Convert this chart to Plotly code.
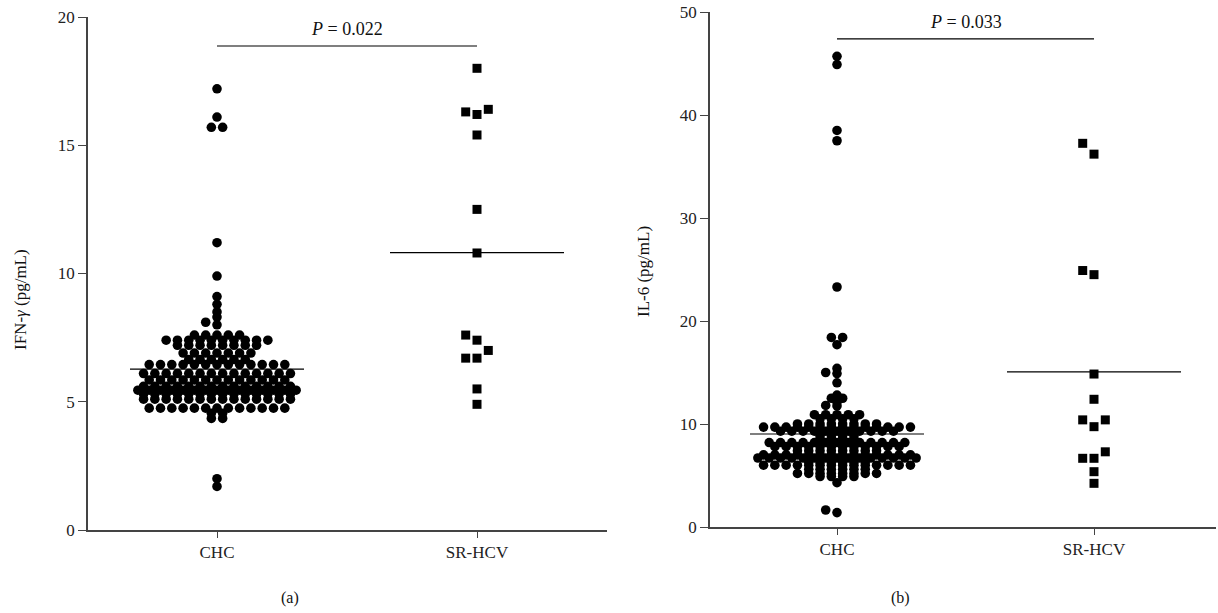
import plotly.graph_objects as go

# ---------------- data ----------------
categories = ["CHC", "SR-HCV"]

# Panel (a) IFN-gamma (pg/mL)
ifn_chc = ([17.2, 16.1, 15.7, 15.7, 11.2, 9.9, 9.1, 8.8, 8.5, 8.3, 8.1, 8.0]
           + [7.6] * 5 + [7.4] * 10 + [7.2] * 8 + [6.9] * 7 + [6.65] * 6
           + [6.45] * 13 + [6.1] * 14 + [5.85] * 13 + [5.6] * 14 + [5.45] * 15
           + [5.3] * 14 + [5.1] * 14 + [4.75] * 13 + [4.55] * 2 + [4.35] * 2
           + [2.0, 1.7])
ifn_sr = [18.0, 16.4, 16.3, 16.2, 15.4, 12.5, 10.8, 7.6, 7.4, 7.0, 6.7, 6.7, 5.5, 4.9]

# Panel (b) IL-6 (pg/mL)
il6_chc = ([45.7, 44.9, 38.5, 37.5, 23.3, 18.4, 18.4, 17.7, 15.4, 15.0, 14.9, 14.0,
            12.8, 12.5, 12.5, 12.1, 11.8, 11.75]
           + [10.9] * 5 + [10.5] * 4 + [10.0] * 8 + [9.7] * 14 + [9.3] * 11
           + [8.9] * 4 + [8.6] * 4 + [8.2] * 13 + [7.8] * 12 + [7.4] * 8
           + [7.0] * 14 + [6.7] * 15 + [6.3] * 6 + [6.0] * 14 + [5.6] * 6
           + [5.2] * 8 + [4.9] * 4 + [4.3]
           + [1.65, 1.4])
il6_sr = [37.25, 36.2, 24.9, 24.5, 14.85, 12.4, 10.4, 10.4, 9.74, 7.3, 6.67, 6.67, 5.37, 4.24]

p_text_a = "<i>P</i> = 0.022"
p_text_b = "<i>P</i> = 0.033"

# ---------------- layout geometry (page pixels) ----------------
W, H = 1218, 613
FONT = "Liberation Serif"

ax_a = dict(x0=88, x1=607, y0=530, y1=17, ymax=20, c0=217, c1=477)
ax_b = dict(x0=710, x1=1216, y0=527, y1=12, ymax=50, c0=837, c1=1094)


def px(xp):
    return xp / W


def py(yp):
    return 1 - yp / H


def xrange_for(ax):
    sp = ax["c1"] - ax["c0"]
    return [-(ax["c0"] - ax["x0"]) / sp, 1 + (ax["x1"] - ax["c1"]) / sp], sp


def swarm(vals, px_per_unit, d, hy, recenter):
    """Row-style swarm: points closer than hy px vertically may not share
    a horizontal slot closer than d px."""
    n = len(vals)
    order = sorted(range(n), key=lambda i: vals[i])
    placed = []
    xs = [0.0] * n
    for i in order:
        y = vals[i] * px_per_unit
        near = [xj for (xj, yj) in placed if abs(y - yj) < hy]
        cands = [0.0]
        for xj in near:
            cands += [xj + d, xj - d]
        cands.sort(key=lambda c: (abs(c), c))
        for c in cands:
            if all(abs(c - xj) >= d - 1e-6 for xj in near):
                xs[i] = c
                break
        placed.append((xs[i], y))
    if recenter:
        groups = {}
        for i, v in enumerate(vals):
            groups.setdefault(v, []).append(i)
        for idx in groups.values():
            if len(idx) >= 2:
                m = sum(xs[i] for i in idx) / len(idx)
                for i in idx:
                    xs[i] -= m
    return xs


fig = go.Figure()


def add_panel(ax, chc, sr, xa, ya, ptext, pline_y, ytitle, title_x, title_y, cap, cap_x):
    xr, sp = xrange_for(ax)
    ppu = (ax["y0"] - ax["y1"]) / ax["ymax"]
    series = [(chc, "circle", 9.6, 3.0, True), (sr, "square", 9, 11.5, False)]
    for ci, (vals, sym, size, hy, rc) in enumerate(series):
        offs = swarm(vals, ppu, 11.3, hy, rc)
        xs = [ci + o / sp for o in offs]
        fig.add_trace(go.Scatter(x=xs, y=vals, mode="markers", xaxis=xa, yaxis=ya,
                                 marker=dict(symbol=sym, size=size, color="black",
                                             line=dict(width=0)),
                                 showlegend=False, hoverinfo="y"))
        m = sum(vals) / len(vals)
        half = 87 / sp
        fig.add_trace(go.Scatter(x=[ci - half, ci + half], y=[m, m], mode="lines",
                                 xaxis=xa, yaxis=ya, line=dict(color="black", width=1.2),
                                 showlegend=False, hoverinfo="skip"))
    # P bracket
    fig.add_trace(go.Scatter(x=[0, 1], y=[pline_y, pline_y], mode="lines", xaxis=xa, yaxis=ya,
                             line=dict(color="black", width=1.2), showlegend=False,
                             hoverinfo="skip"))
    fig.add_annotation(x=0.5, y=pline_y, xref=xa, yref=ya, text=ptext, showarrow=False,
                       xanchor="center", yanchor="bottom", yshift=5,
                       font=dict(family=FONT, size=18, color="#111"))
    # y title
    fig.add_annotation(x=px(title_x), y=py(title_y), xref="paper", yref="paper",
                       text=ytitle, textangle=-90, showarrow=False,
                       xanchor="center", yanchor="middle",
                       font=dict(family=FONT, size=17, color="#111"))
    fig.add_annotation(x=px(cap_x), y=py(598), xref="paper", yref="paper", text=cap,
                       showarrow=False, xanchor="center", yanchor="middle",
                       font=dict(family=FONT, size=16, color="#111"))
    return xr


xr_a = add_panel(ax_a, ifn_chc, ifn_sr, "x", "y", p_text_a, 18.87,
                 "IFN-<i>γ</i> (pg/mL)", 20, 300, "(a)", 290)
xr_b = add_panel(ax_b, il6_chc, il6_sr, "x2", "y2", p_text_b, 47.4,
                 "IL-6 (pg/mL)", 643, 272, "(b)", 900)

axis_common = dict(showline=True, linecolor="#444", linewidth=1.5, ticks="outside",
                   tickcolor="#444", tickwidth=1.2, showgrid=False, zeroline=False,
                   automargin=False, fixedrange=True, ticklabeloverflow="allow",
                   tickfont=dict(family=FONT, size=17, color="#222"))


def dom_x(ax):
    return [px(ax["x0"]), px(ax["x1"])]


def dom_y(ax):
    return [py(ax["y0"]), py(ax["y1"])]


fig.update_layout(
    width=W, height=H, margin=dict(l=0, r=0, t=0, b=0),
    paper_bgcolor="white", plot_bgcolor="white",
    xaxis=dict(domain=dom_x(ax_a), range=xr_a, tickvals=[0, 1], ticktext=categories,
               ticklen=6, anchor="y", **axis_common),
    yaxis=dict(domain=dom_y(ax_a), range=[0, 20], tickvals=[0, 5, 10, 15, 20], ticklen=8,
               anchor="x", **axis_common),
    xaxis2=dict(domain=dom_x(ax_b), range=xr_b, tickvals=[0, 1], ticktext=categories,
                ticklen=6, anchor="y2", **axis_common),
    yaxis2=dict(domain=dom_y(ax_b), range=[0, 50], tickvals=[0, 10, 20, 30, 40, 50], ticklen=8,
                anchor="x2", **axis_common),
)

fig.write_html("out.html", config={"displayModeBar": False},
               post_script="document.body.style.margin='0';document.body.style.overflow='hidden';")
